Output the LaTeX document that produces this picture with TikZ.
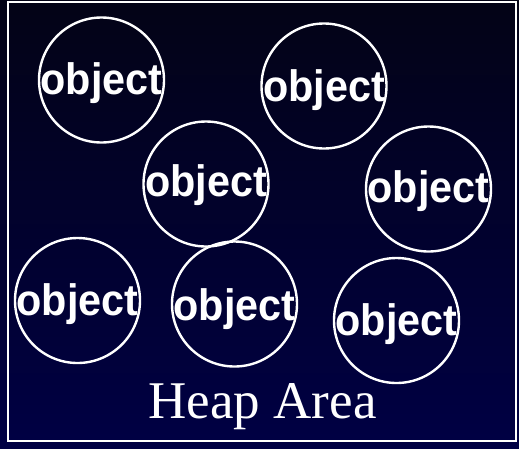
\documentclass[tikz,border=0pt]{standalone}
\usepackage{fontspec}
\newfontfamily\objfont{Liberation Sans}[FakeStretch=0.94]
\newfontfamily\heapfont{Liberation Serif}
\definecolor{bgtop}{RGB}{3,3,22}
\definecolor{bgbot}{RGB}{0,0,68}
\begin{document}
\begin{tikzpicture}[x=1pt,y=-1pt,
  obj/.style={draw=white,line width=2.4pt,circle,minimum size=125pt,inner sep=0pt},
  objtxt/.style={text=white,anchor=base,inner sep=0pt,font=\objfont\bfseries\fontsize{44}{44}\selectfont},
  frame/.style={draw=white,line width=2pt}]
\useasboundingbox (0,0) rectangle (519,448);
\shade[top color=bgtop,bottom color=bgbot] (0,0) rectangle (519,448);
\draw[frame] (8,2) rectangle (516,441);
\node[obj] (c1) at (101.5,80) {};
\node[obj] (c2) at (324,86) {};
\node[obj] (c3) at (206,184) {};
\node[obj] (c4) at (428.5,189) {};
\node[obj] (c5) at (77.5,300.5) {};
\node[obj] (c6) at (234.5,304) {};
\node[obj] (c7) at (396.5,320.5) {};
\node[objtxt] (t1) at (101.5,94) {object};
\node[objtxt] (t2) at (324,101) {object};
\node[objtxt] (t3) at (206,196) {object};
\node[objtxt] (t4) at (428.5,202) {object};
\node[objtxt] (t5) at (77.5,315) {object};
\node[objtxt] (t6) at (234.5,320) {object};
\node[objtxt] (t7) at (396.5,335) {object};
\node[text=white,anchor=base,inner sep=0pt,font=\heapfont\fontsize{53}{53}\selectfont] (heap) at (262.5,418) {Heap Area};
\end{tikzpicture}
\end{document}
